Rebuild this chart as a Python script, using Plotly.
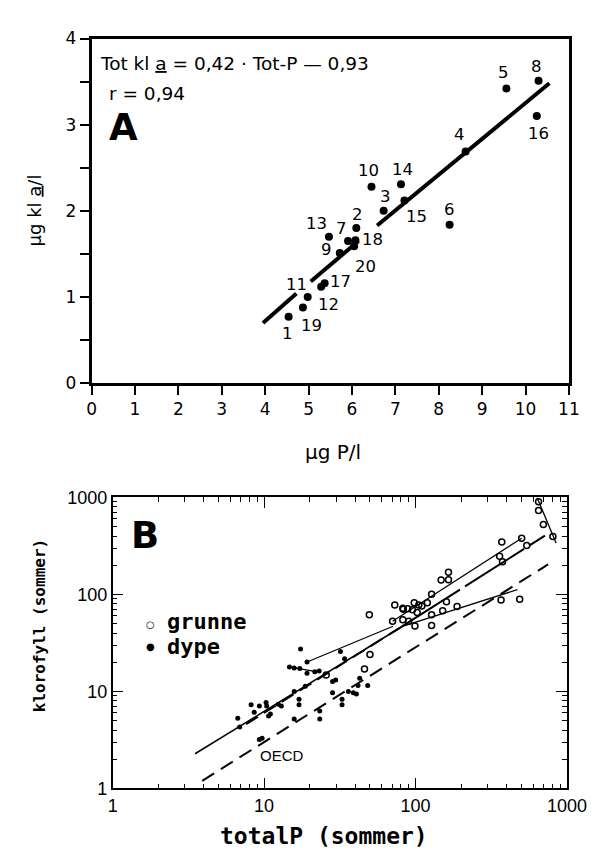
import plotly.graph_objects as go

W, H = 602, 851

# ---------------- Panel A data ----------------
A_labels = [str(i) for i in range(1, 21)]
A_totp = [4.54, 6.10, 6.73, 8.62, 9.56, 8.25, 5.91, 10.30, 5.72, 6.45,
          5.29, 4.98, 5.47, 7.13, 7.21, 10.26, 5.37, 6.08, 4.87, 6.05]
A_chla = [0.77, 1.80, 2.00, 2.69, 3.42, 1.84, 1.65, 3.51, 1.51, 2.28,
          1.12, 1.00, 1.70, 2.31, 2.12, 3.10, 1.16, 1.66, 0.88, 1.59]
A_fit_x = [3.95, 4.72, None, 5.05, 6.15, None, 6.58, 10.55]
A_fit_y = [0.70, 1.04, None, 1.18, 1.65, None, 1.83, 3.48]
A_xticks = list(range(0, 12))
A_yticks = list(range(0, 5))

# ---------------- Panel B data ----------------
B_grunne_tp = [25.7, 46, 50, 49.5, 72.9, 82.4, 70.5, 82.4, 90, 99, 127.6, 83, 88.7, 95.4,
               105, 110, 119.6, 102.5, 98, 127.6, 160, 151, 188, 127.6, 147.5, 165, 165,
               371, 359, 375, 502, 542, 367, 487, 649, 649, 698, 807]
B_grunne_chl = [14.8, 17, 24, 61.7, 77.8, 72, 53, 55, 53, 47.2, 47.9, 70.5, 71.4, 69.5,
                77.8, 76, 82, 65.3, 82.3, 100.5, 84, 67.8, 75, 61.7, 141, 142, 169,
                347, 248, 218, 380, 320, 87.5, 89, 903, 733, 526, 395]
B_dype_tp = [17.4, 19.2, 31.9, 34, 14.7, 15.8, 17.2, 19.2, 21.6, 23.1, 28.3, 29.7, 18.7,
             15.8, 28.3, 32.7, 32.7, 36, 38.8, 40.7, 42.8, 48.3, 41.7, 17, 17, 15.8, 23.3,
             23.3, 12.4, 13, 8.2, 9.3, 10.3, 10.4, 8.6, 10.7, 11, 6.7, 6.9, 9.3, 9.7]
B_dype_chl = [27.4, 20.1, 25.8, 21.7, 17.9, 17.5, 17.2, 15.4, 16.0, 16.3, 12.7, 13.1, 11.3,
              10.0, 9.7, 8.3, 7.3, 10, 9.7, 9.4, 13.7, 11.5, 11.5, 8.3, 7.3, 5.2, 6.3,
              5.2, 7.4, 7.1, 7.3, 7.1, 7.7, 7.1, 6.1, 5.6, 5.85, 5.3, 4.3, 3.2, 3.3]

# regression / connecting lines
B_oecd_tp = [3.9, 750]
B_oecd_chl = [1.2, 204]
B_dash_lo_tp = [7.6, 80]
B_dash_lo_chl = [4.6, 46]
B_dash_hi_tp = [80, 715]
B_dash_hi_chl = [46, 404]
B_solid_tp = [3.5, 82]
B_solid_chl = [2.28, 47]
B_upper_tp = [70.5, 502]
B_upper_chl = [53, 380]
B_bend_tp = [82, 470]
B_bend_chl = [47, 112]
B_thin1_tp = [19.2, 71]
B_thin1_chl = [20.1, 47]
B_thin2_tp = [14.7, 22]
B_thin2_chl = [17.9, 16]
B_steep_tp = [634, 847]
B_steep_chl = [1000, 339]

B_ticks = [1, 10, 100, 1000]
B_ticktext = ["1", "10", "100", "1000"]

# ---------------- style ----------------
SANS = "DejaVu Sans, sans-serif"
LSANS = "Liberation Sans, Arial, sans-serif"
MONO = "DejaVu Sans Mono, monospace"
label_shift = [(-1, -17), (1, 14), (2, 14), (-6, 17), (-3, 16), (0, 15), (-7, 13), (-2, 14),
               (-13, 4), (-3, 16), (-25, 2), (21, -7), (-12, 13), (2, 15), (12, -16),
               (2, -17), (16, 2), (17, 1), (9, -18), (11, -20)]

fig = go.Figure()

# Panel A
fig.add_trace(go.Scatter(x=A_fit_x, y=A_fit_y, mode="lines", xaxis="x", yaxis="y",
                         line=dict(color="black", width=4), showlegend=False, connectgaps=False))
fig.add_trace(go.Scatter(x=A_totp, y=A_chla, mode="markers", xaxis="x", yaxis="y",
                         marker=dict(color="black", size=8), showlegend=False))

# Panel B lines
def bline(xs, ys, width=1.3, dash="solid"):
    fig.add_trace(go.Scatter(x=xs, y=ys, mode="lines", xaxis="x2", yaxis="y2",
                             line=dict(color="black", width=width, dash=dash),
                             showlegend=False))

bline(B_oecd_tp, B_oecd_chl, 2, "14px,8px")
bline(B_dash_lo_tp, B_dash_lo_chl, 2, "14px,7px")
bline(B_dash_hi_tp, B_dash_hi_chl, 2, "70px,6px")
bline(B_solid_tp, B_solid_chl, 1.5)
bline(B_upper_tp, B_upper_chl, 1.3)
bline(B_bend_tp, B_bend_chl, 1.3)
bline(B_thin1_tp, B_thin1_chl, 1.2)
bline(B_thin2_tp, B_thin2_chl, 1.2)
bline(B_steep_tp, B_steep_chl, 1.3)

fig.add_trace(go.Scatter(x=B_grunne_tp, y=B_grunne_chl, mode="markers", xaxis="x2", yaxis="y2",
                         name="grunne", showlegend=False,
                         marker=dict(symbol="circle-open", color="black", size=6,
                                     line=dict(width=1.5))))
fig.add_trace(go.Scatter(x=B_dype_tp, y=B_dype_chl, mode="markers", xaxis="x2", yaxis="y2",
                         name="dype", showlegend=False,
                         marker=dict(symbol="circle", color="black", size=5)))

ann = []
for lab, x, y, (dx, dy) in zip(A_labels, A_totp, A_chla, label_shift):
    ann.append(dict(x=x, y=y, xref="x", yref="y", text=lab, showarrow=False,
                    xanchor="center", yanchor="middle",
                    xshift=dx, yshift=dy, font=dict(family=SANS, size=16.5, color="black")))


def pann(x, y, text, size, family=SANS, xanchor="center", angle=0):
    ann.append(dict(x=x / W, y=1 - y / H, xref="paper", yref="paper", text=text,
                    showarrow=False, xanchor=xanchor, yanchor="middle", textangle=angle,
                    font=dict(family=family, size=size, color="black")))


pann(89, 47, "Tot kl <u>a</u> = 0,42 · Tot-P — 0,93", 18.5, xanchor="left")
pann(98, 77, "r = 0,94", 18.5, xanchor="left")
pann(115, 112, "<b>A</b>", 37)
pann(22, 197, "μg kl <u>a</u>/l", 18, angle=-90)
pann(334, 444, "μg P/l", 20)
pann(138, 530, "<b>B</b>", 37)
pann(281, 755, "OECD", 15, family=LSANS)
pann(28, 622, "<b>klorofyll (sommer)</b>", 16, family=MONO, angle=-90)
pann(324, 838, "<b>totalP (sommer)</b>", 23, family=MONO)
# legend
pann(143, 621, "○", 10)
pann(143, 644, "●", 10)
pann(159, 618, "<b>grunne</b>", 22, family=MONO, xanchor="left")
pann(159, 644, "<b>dype</b>", 22, family=MONO, xanchor="left")

axA = dict(showgrid=False, zeroline=False, showline=True, linecolor="black", linewidth=2.5,
           mirror=True, ticks="outside", ticklen=9, tickwidth=2, tickcolor="black",
           tickfont=dict(family=SANS, size=17, color="black"))
axB = dict(showgrid=False, zeroline=False, showline=True, linecolor="black", linewidth=1.5,
           mirror="allticks", ticks="inside", ticklen=11, tickwidth=1.3, tickcolor="black",
           type="log", range=[0, 3], tickvals=B_ticks, ticktext=B_ticktext,
           tickfont=dict(family=LSANS, size=18, color="black"),
           minor=dict(ticks="inside", ticklen=5, tickwidth=1.2, tickcolor="black",
                      dtick="D1", showgrid=False))

fig.update_layout(
    width=W, height=H, margin=dict(l=0, r=0, t=0, b=0),
    paper_bgcolor="white", plot_bgcolor="white",
    xaxis=dict(axA, domain=[82 / W, 580 / W], range=[0, 11], tickvals=A_xticks,
               anchor="y"),
    yaxis=dict(axA, domain=[1 - 374 / H, 1 - 21 / H], range=[0, 4], tickvals=A_yticks,
               anchor="x",
               minor=dict(dtick=0.5, ticks="outside", ticklen=9, tickwidth=2, tickcolor="black",
                          showgrid=False)),
    xaxis2=dict(axB, domain=[104 / W, 578 / W], anchor="y2"),
    yaxis2=dict(axB, domain=[1 - 789 / H, 1 - 491 / H], anchor="x2"),
    showlegend=False,
    annotations=ann,
)

fig.write_html("out.html")
